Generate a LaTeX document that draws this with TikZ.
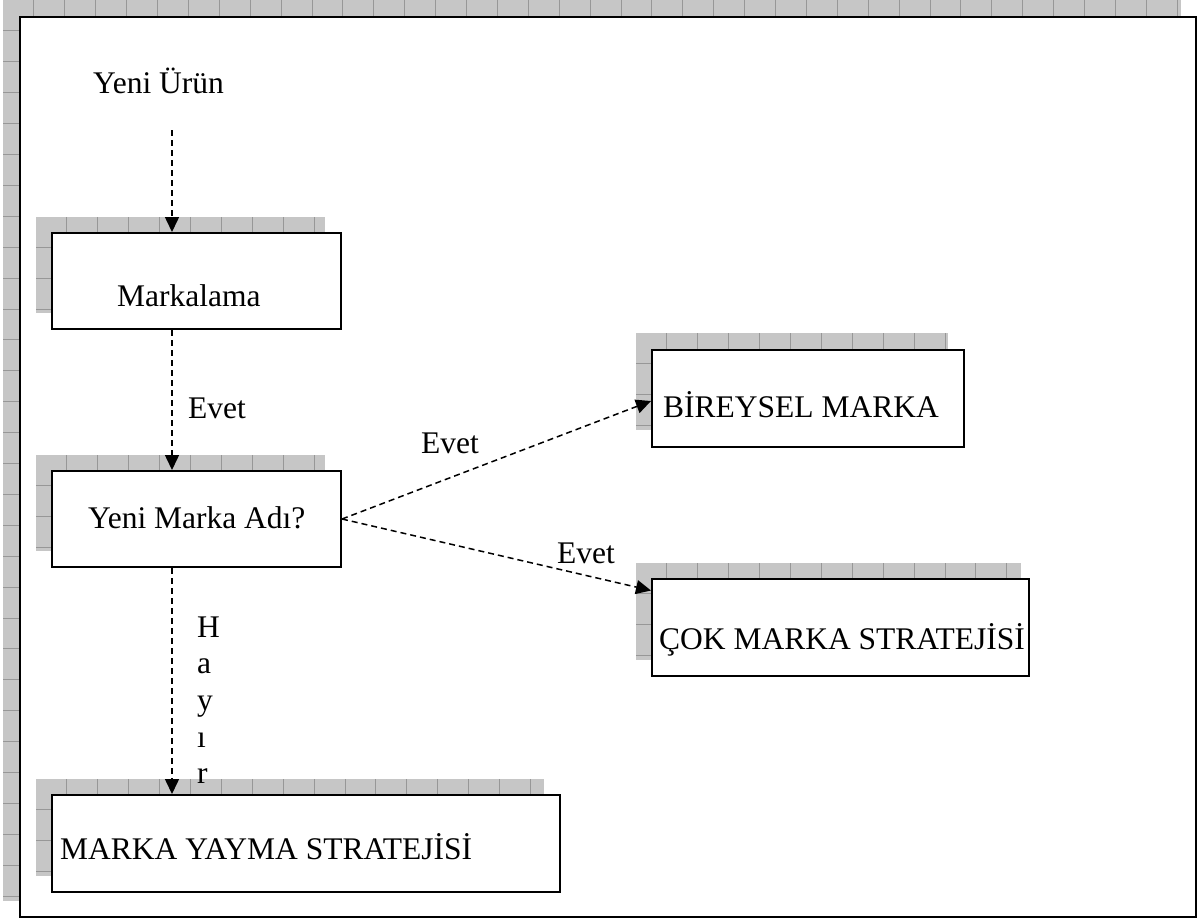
\documentclass[tikz,border=0pt]{standalone}
\usepackage{fontspec}
\setmainfont{Liberation Serif}
\usetikzlibrary{arrows.meta}

\definecolor{shadegray}{HTML}{C6C6C6}
\definecolor{gridgray}{HTML}{979797}

% gray cell-grid shadow behind a box: corners (x0,y0) and (x1,y1)
\newcommand{\cellshade}[4]{%
  \fill[shadegray] (#1,#2) rectangle (#3,#4);
  \begin{scope}
    \clip (#1,#2) rectangle (#3,#4);
    \foreach \k in {1,...,40} {
      \draw[gridline] ({#1+30.9*\k},#2) -- ({#1+30.9*\k},#4);
      \draw[gridline] (#1,{#2+30.9*\k}) -- (#3,{#2+30.9*\k});
    }
  \end{scope}}

\tikzset{
  gridline/.style={draw=gridgray, line width=1pt},
  stepbox/.style={draw=black, fill=white, line width=2pt, inner sep=0pt},
  label/.style={inner sep=0pt, anchor=base west, font=\fontsize{31.5}{36}\selectfont},
  flow/.style={dash pattern=on 6pt off 4pt, line width=1.5pt,
    -{Triangle[length=15pt,width=14pt]}},
}

\begin{document}
\begin{tikzpicture}[x=1pt,y=-1pt]
  \useasboundingbox (0,0) rectangle (1200,919);

  % outer frame with its shadow
  \cellshade{3}{0}{1181}{901}
  \node[stepbox, line width=2.5pt, minimum width=1176pt, minimum height=900pt]
    (frame) at (608,467) {};

  % box shadows
  \cellshade{36}{217}{325}{313}
  \cellshade{36}{455}{325}{551}
  \cellshade{636}{333}{948}{430}
  \cellshade{636}{563}{1021}{660}
  \cellshade{36}{779}{544}{876}

  % boxes
  \node[stepbox, minimum width=289pt, minimum height=96pt] (mark) at (196.5,281) {};
  \node[stepbox, minimum width=289pt, minimum height=96pt] (adi) at (196.5,519) {};
  \node[stepbox, minimum width=312pt, minimum height=97pt] (bir) at (808,398.5) {};
  \node[stepbox, minimum width=377pt, minimum height=97pt] (cok) at (840.5,627.5) {};
  \node[stepbox, minimum width=508pt, minimum height=97pt] (yayma) at (306,843.5) {};

  % texts
  \node[label] (yeni) at (93,93) {Yeni Ürün};
  \node[label] (tmark) at (117,306) {Markalama};
  \node[label] (tadi) at (88,528) {Yeni Marka Adı?};
  \node[label] (tbir) at (663,417) {BİREYSEL MARKA};
  \node[label] (tcok) at (659,649) {ÇOK MARKA STRATEJİSİ};
  \node[label] (tyayma) at (60,859) {MARKA YAYMA STRATEJİSİ};

  \node[label] (evet1) at (188,418) {Evet};
  \node[label] (evet2) at (421,453) {Evet};
  \node[label] (evet3) at (557,563) {Evet};

  \node[label] (h1) at (197,637) {H};
  \node[label] (h2) at (197,673) {a};
  \node[label] (h3) at (197,710) {y};
  \node[label] (h4) at (197,747) {ı};
  \node[label] (h5) at (197,783) {r};

  % connectors
  \coordinate (vx) at (172,0);
  \coordinate (ystart) at (172,130);
  \draw[flow] (ystart) -- (mark.north -| vx);
  \draw[flow] (mark.south -| vx) -- (adi.north -| vx);
  \draw[flow] (adi.south -| vx) -- (yayma.north -| vx);
  \draw[flow] (adi.east) -- ([yshift=-2.5pt]bir.west);
  \draw[flow] (adi.east) -- ([yshift=37pt]cok.west);
\end{tikzpicture}
\end{document}
